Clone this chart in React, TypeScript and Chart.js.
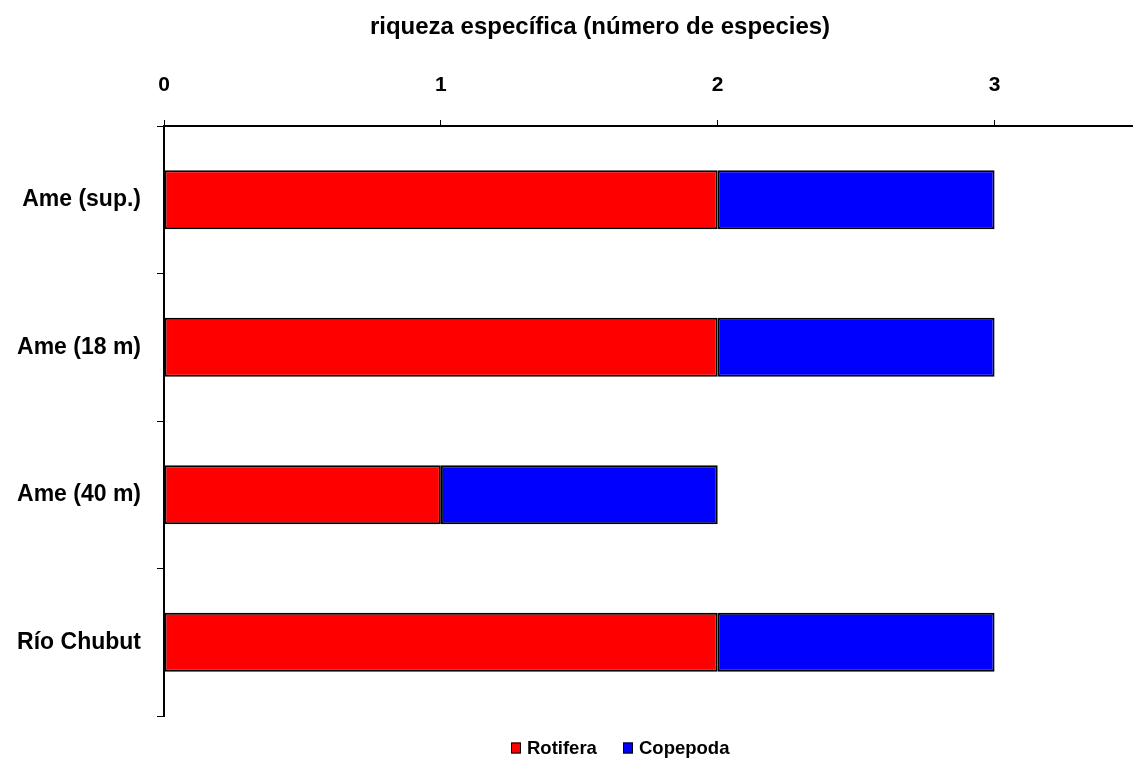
import React, { useEffect, useRef } from "react";
import { Chart, registerables } from "chart.js";

Chart.register(...registerables);

const sites = ["Ame (sup.)", "Ame (18 m)", "Ame (40 m)", "Río Chubut"];
const rotifera = [2, 2, 1, 2];
const copepoda = [1, 1, 1, 1];
const seriesNames = ["Rotifera", "Copepoda"];
const seriesColors = ["#FF0000", "#0000FF"];
const chartTitle = "riqueza específica (número de especies)";

const FONT = "'Liberation Sans', Arial, Helvetica, sans-serif";

// Title above the axis and a small legend under the plot
const decorations = {
  id: "decorations",
  afterDraw(chart: any) {
    const ctx = chart.ctx;
    ctx.save();
    ctx.fillStyle = "#000";
    ctx.font = `bold 24px ${FONT}`;
    ctx.textAlign = "center";
    ctx.textBaseline = "middle";
    ctx.fillText(chartTitle, 600, 27);

    ctx.font = `bold 18.5px ${FONT}`;
    ctx.textAlign = "left";
    const y = 748;
    const starts = [511, 623];
    chart.data.datasets.forEach((ds: any, i: number) => {
      const x = starts[i];
      ctx.fillStyle = ds.backgroundColor;
      ctx.fillRect(x, y - 5.5, 10, 11);
      ctx.strokeStyle = "#000";
      ctx.lineWidth = 1;
      ctx.strokeRect(x + 0.5, y - 5, 9, 10);
      ctx.fillStyle = "#000";
      ctx.fillText(ds.label, x + 16, y + 1);
    });
    ctx.restore();
  },
};

export default function App() {
  const ref = useRef<HTMLCanvasElement | null>(null);

  useEffect(() => {
    if (!ref.current) return;
    const chart = new Chart(ref.current, {
      type: "bar",
      data: {
        labels: sites,
        datasets: [
          {
            label: seriesNames[0],
            data: rotifera,
            backgroundColor: seriesColors[0],
            borderColor: "#000",
            borderWidth: 2,
            borderSkipped: false,
            categoryPercentage: 1,
            barPercentage: 0.4,
          },
          {
            label: seriesNames[1],
            data: copepoda,
            backgroundColor: seriesColors[1],
            borderColor: "#000",
            borderWidth: 2,
            borderSkipped: false,
            categoryPercentage: 1,
            barPercentage: 0.4,
          },
        ],
      },
      options: {
        indexAxis: "y",
        animation: false,
        responsive: false,
        maintainAspectRatio: false,
        layout: { padding: { left: 0, right: 0, top: 0, bottom: 45 } },
        plugins: {
          legend: { display: false },
          title: { display: false },
          tooltip: { enabled: false },
        },
        scales: {
          x: {
            position: "top",
            stacked: true,
            min: 0,
            max: 3.5,
            afterBuildTicks: (scale: any) => {
              scale.ticks = scale.ticks.filter((t: any) => Number.isInteger(t.value));
            },
            afterFit: (scale: any) => {
              scale.height = 126;
            },
            ticks: {
              stepSize: 1,
              color: "#000",
              padding: 22,
              font: { family: FONT, size: 21, weight: "bold" },
            },
            grid: {
              drawOnChartArea: false,
              drawTicks: true,
              tickLength: 6,
              color: "#000",
              lineWidth: 1,
            },
            border: { display: true, color: "#000", width: 2 },
          },
          y: {
            stacked: true,
            offset: true,
            afterFit: (scale: any) => {
              scale.width = 164;
            },
            ticks: {
              color: "#000",
              padding: 16,
              font: { family: FONT, size: 23, weight: "bold" },
            },
            grid: {
              offset: true,
              drawOnChartArea: false,
              drawTicks: true,
              tickLength: 7,
              color: "#000",
              lineWidth: 1,
            },
            border: { display: true, color: "#000", width: 2 },
          },
        },
      },
      plugins: [decorations],
    } as any);
    return () => chart.destroy();
  }, []);

  return (
    <div style={{ position: "absolute", left: 0, top: 0, width: 1133, height: 761, background: "#fff" }}>
      <canvas ref={ref} width={1133} height={761} style={{ display: "block" }} />
    </div>
  );
}
